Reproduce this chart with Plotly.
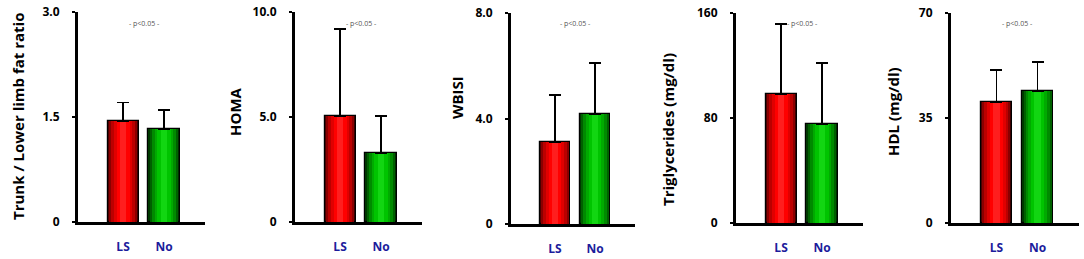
import plotly.graph_objects as go

groups = ["LS", "No"]
titles = ["Trunk / Lower limb fat ratio", "HOMA", "WBISI", "Triglycerides (mg/dl)", "HDL (mg/dl)"]
means = [[1.44, 1.33], [5.05, 3.29], [3.11, 4.17], [98.3, 75.4], [40.3, 44.0]]
errors = [[0.27, 0.27], [4.14, 1.76], [1.78, 1.93], [53.3, 46.5], [10.7, 9.7]]
ymax = [3.0, 10.0, 8.0, 160, 70]
tick_labels = [["0", "1.5", "3.0"], ["0", "5.0", "10.0"], ["0", "4.0", "8.0"],
               ["0", "80", "160"], ["0", "35", "70"]]
p_text = "- p<0.05 -"

W, H = 1084, 259
# pixel layout: (x0, x1, ytop, ybottom)
boxes = [(78, 205, 12, 222), (295, 422, 12, 222), (511, 635, 13, 224),
         (736, 863, 13, 223), (951, 1079, 13, 223)]
title_pos = [(18, 117), (235, 112), (457, 98), (668, 130), (893, 112)]

red_layers = ["#4a0000", "#8a0000", "#bb0000", "#e00000", "#ff0000", "#ff1e1e"]
green_layers = ["#003800", "#006000", "#008a00", "#00aa00", "#00c400", "#12d612"]
widths = [0.76, 0.68, 0.58, 0.46, 0.32, 0.16]

fig = go.Figure()
font_fam = "Open Sans"
for i in range(5):
    xa = "x" if i == 0 else f"x{i+1}"
    ya = "y" if i == 0 else f"y{i+1}"
    nl = len(widths)
    for k in range(nl):
        for g in range(2):
            cols = red_layers if g == 0 else green_layers
            tr = dict(
                x=[groups[g]], y=[means[i][g]], width=[widths[k]],
                marker=dict(color=cols[k],
                            line=dict(color="black", width=1.2 if k == 0 else 0)),
                xaxis=xa, yaxis=ya, showlegend=False, hoverinfo="skip",
            )
            if k == nl - 1:
                tr["error_y"] = dict(type="data", symmetric=False,
                                     array=[errors[i][g]], arrayminus=[0],
                                     color="black", thickness=1.5, width=6)
            fig.add_trace(go.Bar(**tr))
    x0, x1, yt, yb = boxes[i]
    ax_suffix = "" if i == 0 else str(i + 1)
    fig.layout["xaxis" + ax_suffix] = dict(
        domain=[x0 / W, x1 / W], anchor=ya, range=[-1.1, 2.0], automargin=False,
        showline=True, linewidth=3, linecolor="black", showgrid=False,
        zeroline=False, ticks="", ticklabelstandoff=12,
        tickfont=dict(family=font_fam, size=12, color="#1c1c9c", weight="bold"),
        fixedrange=True,
    )
    fig.layout["yaxis" + ax_suffix] = dict(
        domain=[1 - yb / H, 1 - yt / H], anchor=xa, range=[0, ymax[i]], automargin=False,
        tickvals=[0, ymax[i] / 2, ymax[i]], ticktext=tick_labels[i],
        showline=True, linewidth=3, linecolor="black", showgrid=False,
        zeroline=False, ticks="outside", ticklen=3, tickwidth=2, tickcolor="black",
        ticklabelstandoff=10,
        tickfont=dict(family=font_fam, size=12, color="black", weight="bold"),
        fixedrange=True,
    )
    tx, ty = title_pos[i]
    fig.add_annotation(text=titles[i], x=tx / W, y=1 - ty / H, xref="paper", yref="paper",
                       textangle=-90, showarrow=False, xanchor="center", yanchor="middle",
                       font=dict(family=font_fam, size=15, color="black", weight="bold"))
    fig.add_annotation(text=p_text, x=0.5, y=1 - 23 / H, xref=xa, yref="paper",
                       showarrow=False, xanchor="center", yanchor="middle",
                       font=dict(family=font_fam, size=7, color="#555555"))

fig.update_layout(
    width=W, height=H, margin=dict(l=0, r=0, t=0, b=0, autoexpand=False),
    plot_bgcolor="white", paper_bgcolor="white", barmode="overlay",
    bargap=0,
)
fig.write_html("out.html", config={"displayModeBar": False},
               post_script="document.body.style.margin='0px';document.body.style.overflow='hidden';")
